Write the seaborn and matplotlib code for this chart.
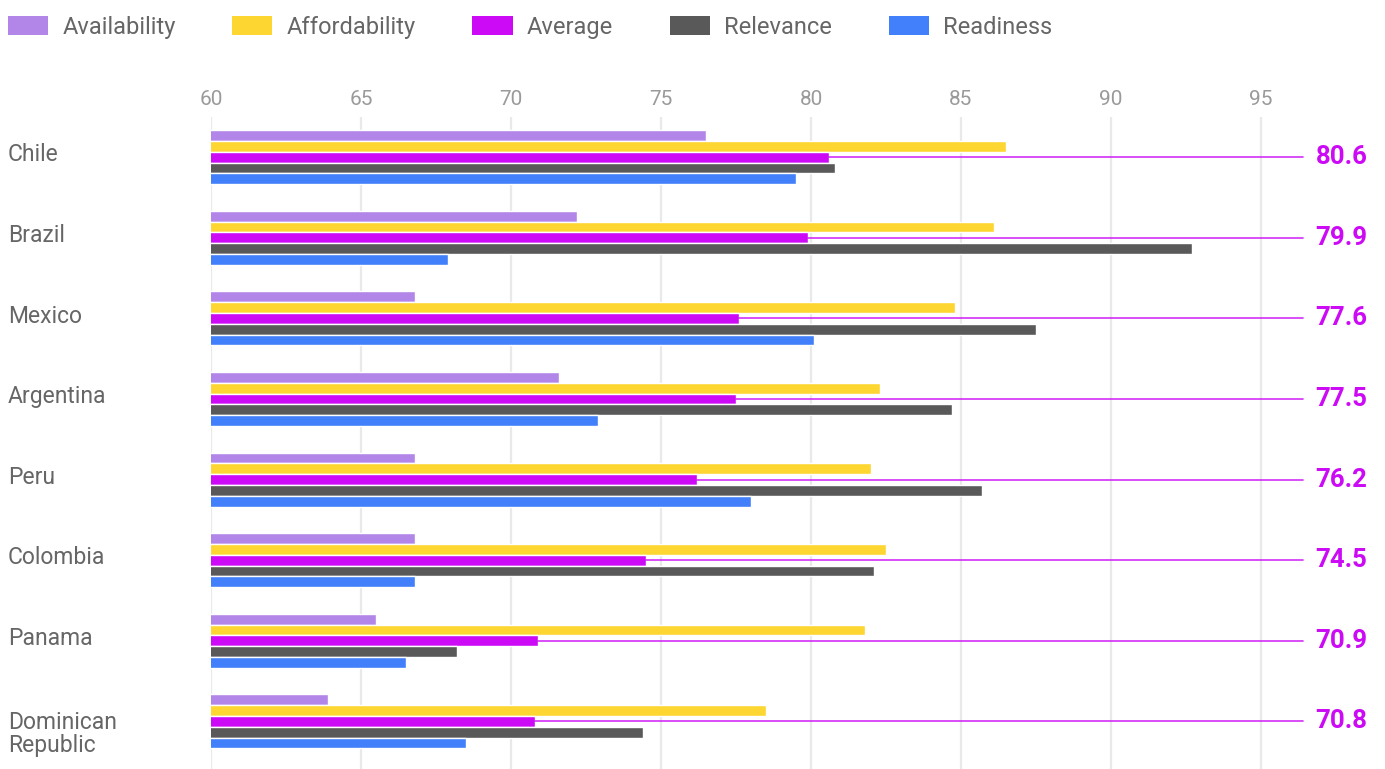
import matplotlib
matplotlib.use("Agg")
import matplotlib.pyplot as plt
import matplotlib.transforms as mtransforms
from matplotlib.patches import Patch
import pandas as pd
import seaborn as sns

countries = ["Chile", "Brazil", "Mexico", "Argentina", "Peru", "Colombia",
             "Panama", "Dominican\nRepublic"]
metrics = ["Availability", "Affordability", "Average", "Relevance", "Readiness"]

availability = [76.5, 72.2, 66.8, 71.6, 66.8, 66.8, 65.5, 63.9]
affordability = [86.5, 86.1, 84.8, 82.3, 82.0, 82.5, 81.8, 78.5]
average = [80.6, 79.9, 77.6, 77.5, 76.2, 74.5, 70.9, 70.8]
relevance = [80.8, 92.7, 87.5, 84.7, 85.7, 82.1, 68.2, 74.4]
readiness = [79.5, 67.9, 80.1, 72.9, 78.0, 66.8, 66.5, 68.5]

colors = {
    "Availability": "#b286e8",
    "Affordability": "#fed631",
    "Average": "#cc0af5",
    "Relevance": "#595959",
    "Readiness": "#4180fa",
}
ticks = [60, 65, 70, 75, 80, 85, 90, 95]

series = {
    "Availability": availability,
    "Affordability": affordability,
    "Average": average,
    "Relevance": relevance,
    "Readiness": readiness,
}
df = pd.DataFrame(
    [(c, m, v) for m in metrics for c, v in zip(countries, series[m])],
    columns=["country", "metric", "value"],
)

sns.set_theme(style="white")
plt.rcParams["font.family"] = ["Roboto", "DejaVu Sans"]

W, H = 1385, 769
fig = plt.figure(figsize=(W / 100, H / 100), dpi=100)
ax = fig.add_axes([211 / W, 0, 1125 / W, (769 - 117) / H])

sns.barplot(
    data=df, x="value", y="country", hue="metric", hue_order=metrics,
    order=countries, palette=colors, orient="h", width=0.67,
    saturation=1, legend=False, ax=ax,
)

ax.set_xlim(60, 97.5)
ax.set_ylim(7.59, -0.5)
ax.set_xticks(ticks)
ax.xaxis.tick_top()
ax.tick_params(axis="x", length=0, pad=6, labelsize=15, labelcolor="#9a9a9a")
ax.set_yticks([])
ax.set_xlabel("")
ax.set_ylabel("")
for s in ax.spines.values():
    s.set_visible(False)
ax.set_axisbelow(True)
ax.grid(axis="x", color="#e9e9e9", linewidth=1.6)
ax.grid(axis="y", visible=False)

# country names, left aligned at the figure edge
trans = mtransforms.blended_transform_factory(fig.transFigure, ax.transData)
for i, c in enumerate(countries):
    off = 0.15 if "\n" in c else -0.03
    ax.text(8 / W, i + off, c, transform=trans, ha="left", va="center",
            fontsize=16.5, color="#666666", linespacing=1.0)

# leader lines from each average bar to its value label
for i, v in enumerate(average):
    ax.plot([v, 96.4], [i, i], color="#cc0af5", linewidth=1.2,
            clip_on=False, zorder=1, alpha=0.85)
    ax.text(98.55, i, f"{v:.1f}", ha="right", va="center", fontsize=18.5,
            fontweight="bold", color="#cc0af5", clip_on=False)

handles = [Patch(facecolor=colors[m], edgecolor="none", label=m) for m in metrics]
fig.legend(
    handles=handles, loc="upper left", bbox_to_anchor=(8 / W, 1 - 16 / H),
    ncol=5, frameon=False, fontsize=17, labelcolor="#666666",
    handlelength=1.7, handleheight=0.85, handletextpad=0.6,
    columnspacing=2.4, borderpad=0, borderaxespad=0,
)

fig.savefig("out.png", dpi=100)
